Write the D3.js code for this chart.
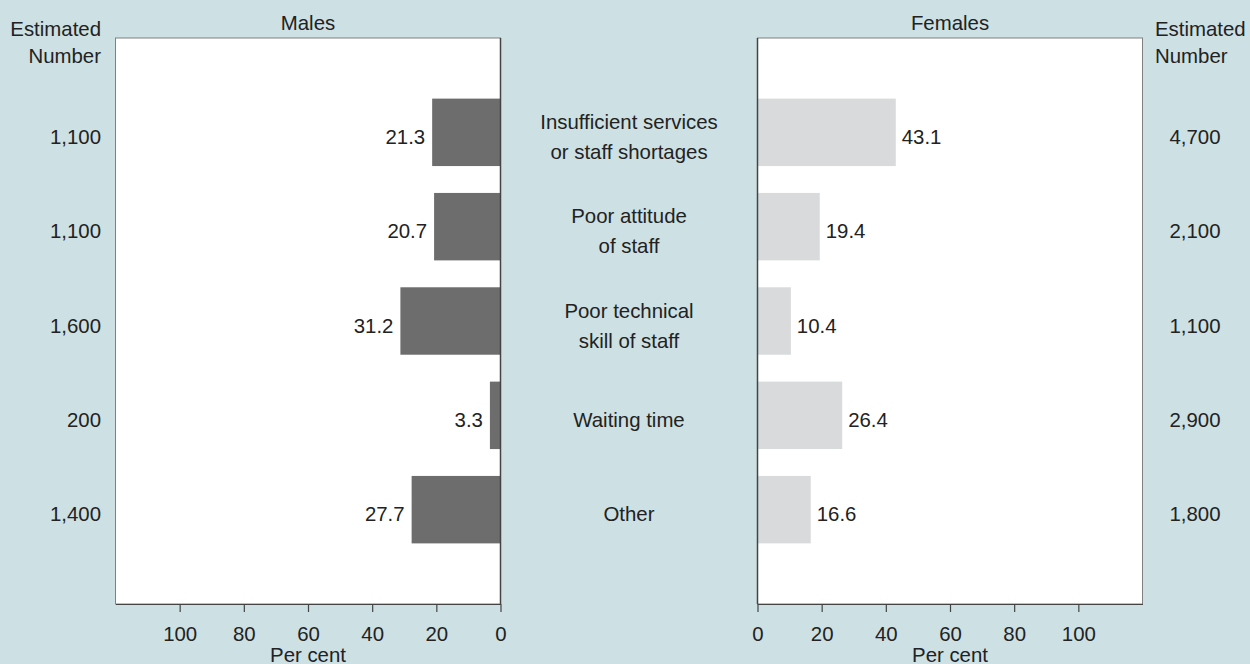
<!DOCTYPE html>
<html>
<head>
<meta charset="utf-8">
<script src="https://cdn.jsdelivr.net/npm/d3@7"></script>
<style>
  html, body { margin: 0; padding: 0; background: #cde0e3; }
  svg { display: block; }
  text { font-family: "Liberation Sans", Arial, Helvetica, sans-serif; fill: #222; }
</style>
</head>
<body>
<svg id="chart" width="1250" height="664"></svg>
<script>
const categories = [
  ["Insufficient services", "or staff shortages"],
  ["Poor attitude", "of staff"],
  ["Poor technical", "skill of staff"],
  ["Waiting time"],
  ["Other"]
];
const malesPct = [21.3, 20.7, 31.2, 3.3, 27.7];
const femalesPct = [43.1, 19.4, 10.4, 26.4, 16.6];
const malesNumber = ["1,100", "1,100", "1,600", "200", "1,400"];
const femalesNumber = ["4,700", "2,100", "1,100", "2,900", "1,800"];
const tickValues = [0, 20, 40, 60, 80, 100];

(function () {
const svg = d3.select("#chart");
const W = 1250, H = 664;
svg.append("rect").attr("width", W).attr("height", H).attr("fill", "#cde0e3");

const yTop = 38, yBottom = 604;
const leftPanel = { x0: 115.5, x1: 500.5 };
const rightPanel = { x0: 757.5, x1: 1142.5 };
const fs = 20.4;

const idx = d3.range(categories.length);
const y = d3.scalePoint().domain(idx).range([yTop, yBottom]).padding(1);
const barH = y.step() * 0.715;

const xL = d3.scaleLinear().domain([0, 120]).range([leftPanel.x1, leftPanel.x0]);
const xR = d3.scaleLinear().domain([0, 120]).range([rightPanel.x0, rightPanel.x1]);

function panel(p, x, values, color, side, title) {
  const g = svg.append("g");
  g.append("rect")
    .attr("x", p.x0).attr("y", yTop)
    .attr("width", p.x1 - p.x0).attr("height", yBottom - yTop)
    .attr("fill", "#fff").attr("stroke", "#808080").attr("stroke-width", 1);

  g.selectAll("rect.bar").data(values).enter().append("rect")
    .attr("class", "bar")
    .attr("x", d => Math.min(x(0), x(d)))
    .attr("width", d => Math.abs(x(d) - x(0)))
    .attr("y", (d, i) => y(i) - barH / 2)
    .attr("height", barH)
    .attr("fill", color);

  g.selectAll("text.val").data(values).enter().append("text")
    .attr("class", "val")
    .attr("x", d => side === "left" ? x(d) - 7 : x(d) + 6)
    .attr("y", (d, i) => y(i) + 11.5)
    .attr("text-anchor", side === "left" ? "end" : "start")
    .attr("font-size", fs)
    .text(d => d.toFixed(1));

  g.append("line")
    .attr("x1", x(0)).attr("x2", x(0))
    .attr("y1", yTop).attr("y2", yBottom)
    .attr("stroke", "#444").attr("stroke-width", 1.5);

  const axis = d3.axisBottom(x).tickValues(tickValues).tickSize(8).tickPadding(15).tickSizeOuter(0);
  const ag = g.append("g").attr("transform", `translate(0,${yBottom})`).call(axis);
  ag.select(".domain").attr("stroke", "#444").attr("stroke-width", 1.2);
  ag.selectAll(".tick line").attr("stroke", "#444").attr("stroke-width", 1.2);
  ag.selectAll(".tick text")
    .attr("font-size", fs)
    .attr("font-family", "Liberation Sans, Arial, sans-serif")
    .attr("fill", "#222");

  const cx = (p.x0 + p.x1) / 2;
  g.append("text").attr("x", cx).attr("y", 662).attr("text-anchor", "middle")
    .attr("font-size", fs).text("Per cent");
  g.append("text").attr("x", cx).attr("y", 29.5).attr("text-anchor", "middle")
    .attr("font-size", fs).text(title);
}

panel(leftPanel, xL, malesPct, "#6d6d6e", "left", "Males");
panel(rightPanel, xR, femalesPct, "#d9dadc", "right", "Females");

const midX = (leftPanel.x1 + rightPanel.x0) / 2;
categories.forEach((lines, i) => {
  const base = y(i) + 11.5 - (lines.length - 1) * 15;
  const t = svg.append("text").attr("text-anchor", "middle").attr("font-size", fs);
  lines.forEach((ln, j) => {
    t.append("tspan").attr("x", midX).attr("y", base + j * 30).text(ln);
  });
});

svg.append("text").attr("x", 101).attr("y", 36).attr("text-anchor", "end").attr("font-size", fs).text("Estimated");
svg.append("text").attr("x", 101).attr("y", 62.5).attr("text-anchor", "end").attr("font-size", fs).text("Number");
svg.append("text").attr("x", 1155).attr("y", 36).attr("text-anchor", "start").attr("font-size", fs).text("Estimated");
svg.append("text").attr("x", 1155).attr("y", 62.5).attr("text-anchor", "start").attr("font-size", fs).text("Number");

svg.selectAll("text.mn").data(malesNumber).enter().append("text")
  .attr("class", "mn")
  .attr("x", 101).attr("y", (d, i) => y(i) + 11.5)
  .attr("text-anchor", "end").attr("font-size", fs).text(d => d);

svg.selectAll("text.fn").data(femalesNumber).enter().append("text")
  .attr("class", "fn")
  .attr("x", 1195).attr("y", (d, i) => y(i) + 11.5)
  .attr("text-anchor", "middle").attr("font-size", fs).text(d => d);
})();
</script>
</body>
</html>
